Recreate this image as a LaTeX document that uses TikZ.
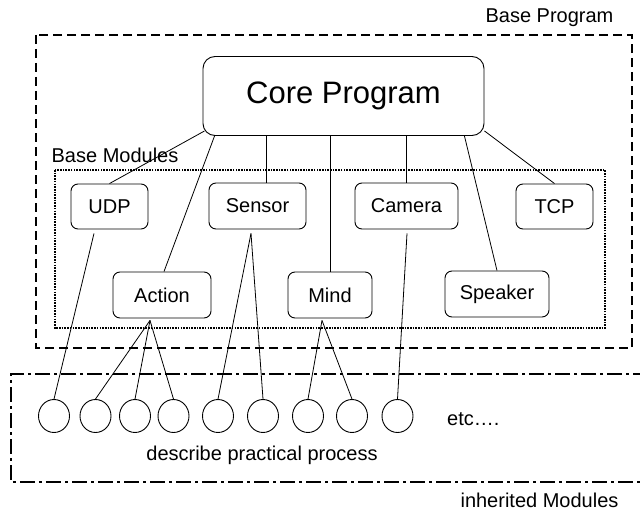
\documentclass[tikz,border=0pt]{standalone}
\usepackage{fontspec}
\setmainfont{Liberation Sans}
\usetikzlibrary{shapes.geometric,calc}

\begin{document}
\begin{tikzpicture}[x=1pt,y=-1pt,
  lbl/.style={font=\fontsize{20}{24}\selectfont, inner sep=0pt},
  modbox/.style={draw, rounded corners=7pt, line width=0.9pt, inner sep=0pt,
                 font=\fontsize{20}{24}\selectfont},
  corebox/.style={draw, rounded corners=12pt, line width=0.9pt, inner sep=0pt,
                  font=\fontsize{31}{36}\selectfont},
  proc/.style={draw, ellipse, line width=0.9pt, minimum width=31pt,
               minimum height=33pt, inner sep=0pt},
  link/.style={line width=0.8pt},
  baseframe/.style={line width=2.8pt, dash pattern=on 9pt off 5pt},
  modframe/.style={line width=2pt, dash pattern=on 1.6pt off 1.1pt},
  inhframe/.style={line width=2.4pt, dash pattern=on 15pt off 4pt on 3pt off 4pt}]

  % canvas
  \fill[white] (0,0) rectangle (640,511);
  \useasboundingbox (0,0) rectangle (640,511);

  % frames
  \draw[baseframe] (36,35) rectangle (632,348);
  \draw[modframe] (55,170) rectangle (605,328);
  \draw[inhframe] (648,374) -- (11,374) -- (11,482) -- (648,482);

  % frame labels
  \node[lbl] (lblbase) at (549.5,18) {Base Program};
  \node[lbl] (lblmods) at (115,155) {Base Modules};
  \node[lbl] (lblinh) at (539.5,500) {inherited Modules};
  \node[lbl] (lbldesc) at (262,455) {describe practical process};
  \node[lbl, anchor=west] (lbletc) at (447,419) {etc….};

  % core program
  \node[corebox, minimum width=281pt, minimum height=79pt] (core) at (343.5,96) {Core Program};

  % base modules
  \node[modbox, minimum width=77pt, minimum height=45pt] (udp) at (109.5,206.5) {UDP};
  \node[modbox, minimum width=97pt, minimum height=46pt] (sensor) at (257.5,206) {Sensor};
  \node[modbox, minimum width=103pt, minimum height=46pt] (camera) at (406.5,206) {Camera};
  \node[modbox, minimum width=77pt, minimum height=45pt] (tcp) at (554.5,206.5) {TCP};
  \node[modbox, minimum width=98pt, minimum height=46pt] (action) at (162,295) {Action};
  \node[modbox, minimum width=84pt, minimum height=46pt] (mind) at (330,295) {Mind};
  \node[modbox, minimum width=104pt, minimum height=46pt] (speaker) at (497,294) {Speaker};

  % inherited processes
  \foreach \i/\x in {1/54,2/95.5,3/135,4/173.5,5/218,6/263,7/308,8/352,9/397.5}
    \node[proc] (c\i) at (\x,416) {};

  % core to modules
  \draw[link] ($(core.south west)+(2,-5)$) -- (udp.north);
  \draw[link] ($(core.south west)+(12,0)$) -- ($(action.north)+(2,0)$);
  \coordinate (sensorin) at ($(sensor.north)+(9,0)$);
  \draw[link] (sensorin) -- (sensorin |- core.south);
  \draw[link] (mind.north) -- (mind.north |- core.south);
  \draw[link] (camera.north) -- (camera.north |- core.south);
  \draw[link] ($(core.south east)+(-20,0)$) -- (speaker.north);
  \draw[link] ($(core.south east)+(0,-5)$) -- (tcp.north);

  % modules to inherited processes
  \coordinate (udpout) at ($(udp.south)+(-15.5,4)$);
  \coordinate (actout) at ($(action.south)+(-12,2)$);
  \coordinate (sensout) at ($(sensor.south)+(-6.5,4)$);
  \coordinate (mindout) at ($(mind.south)+(-8,2)$);
  \coordinate (camout) at ($(camera.south)+(0.5,4)$);
  \draw[link] (udpout) -- (c1.north);
  \draw[link] (actout) -- (c2.north);
  \draw[link] (actout) -- (c3.north);
  \draw[link] (actout) -- (c4.north);
  \draw[link] (sensout) -- (c5.north);
  \draw[link] (sensout) -- (c6.north);
  \draw[link] (mindout) -- (c7.north);
  \draw[link] (mindout) -- (c8.north);
  \draw[link] (camout) -- (c9.north);
\end{tikzpicture}
\end{document}
